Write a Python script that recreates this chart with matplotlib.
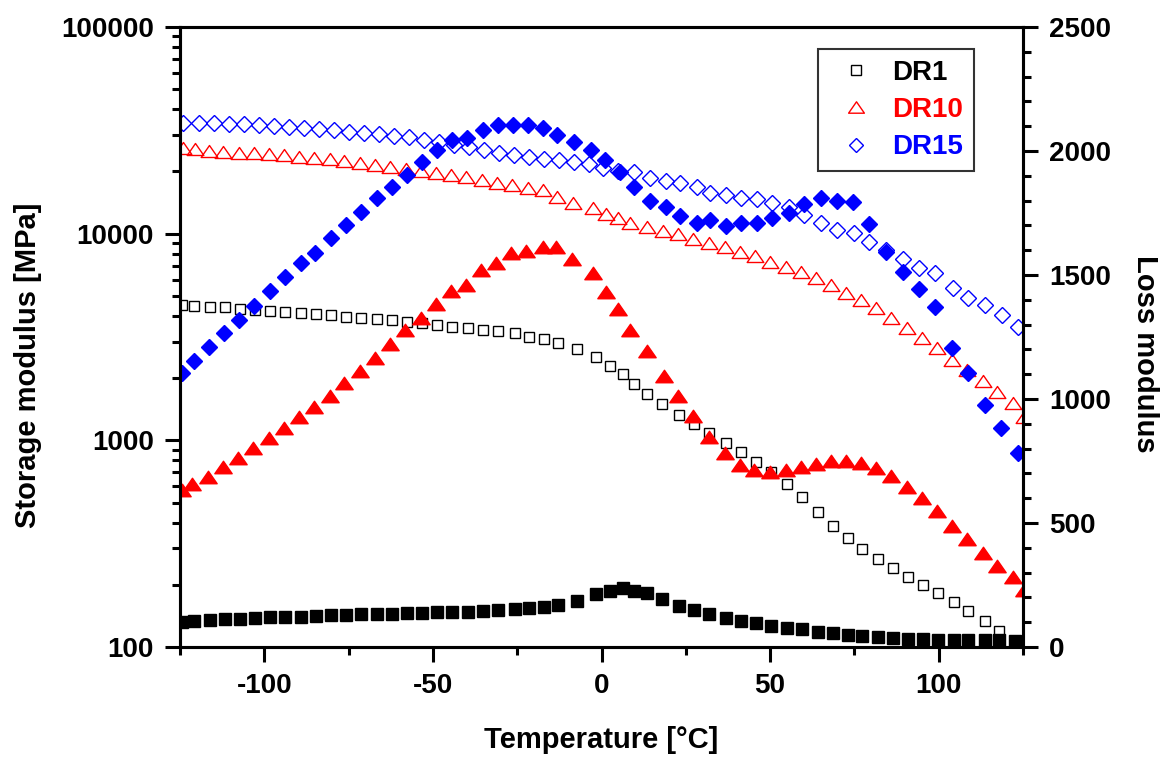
import numpy as np
import matplotlib
matplotlib.use("Agg")
import matplotlib.pyplot as plt
from matplotlib.path import Path
from matplotlib.ticker import LogLocator, FuncFormatter, NullFormatter, MultipleLocator, FixedLocator

plt.rcParams['font.family'] = ['Liberation Sans', 'DejaVu Sans']
plt.rcParams['font.weight'] = 'bold'
plt.rcParams['axes.unicode_minus'] = False

# DR1 storage (open) and loss (filled)
t_dr1 = [-124.4, -120.8, -116.2, -111.8, -107.3, -102.7, -98.2, -93.8, -89.1, -84.7,
         -80.2, -75.8, -71.2, -66.7, -62.2, -57.7, -53.1, -48.8, -44.2, -39.7,
         -35.2, -30.8, -25.8, -21.6, -17.1, -12.9, -7.4, -1.5, 2.4, 6.4,
         9.6, 13.6, 18.0, 23.1, 27.4, 32.0, 36.8, 41.5, 45.9, 50.4,
         55.0, 59.5, 64.1, 68.6, 73.1, 77.4, 82.0, 86.4, 91.0, 95.4,
         99.9, 104.4, 108.8, 113.6, 118.0, 122.5]
e1_dr1 = [4515, 4480, 4430, 4395, 4300, 4270, 4240, 4195, 4110, 4070,
          4040, 3965, 3920, 3845, 3815, 3745, 3680, 3610, 3540, 3505,
          3417, 3390, 3293, 3170, 3080, 2970, 2760, 2520, 2296, 2086,
          1872, 1675, 1499, 1325, 1199, 1081, 973, 875, 785, 705,
          615, 532, 452, 385, 336, 298, 266, 240, 219, 200,
          182, 166, 150, 134, 119]
e2_dr1 = [102, 106, 109, 112, 114, 116, 120, 120, 122, 125,
          128, 128, 132, 132, 133, 137, 138, 141, 141, 140,
          146, 149, 152, 158, 162, 169, 187, 212, 227, 237,
          227, 216, 194, 167, 149, 133, 116, 106, 96, 86,
          78, 71, 62, 55, 48, 43, 39, 35, 32, 31,
          29, 28, 28, 27, 27, 24]

# DR10
t_dr10_e1 = [-124.0, -120.6, -116.5, -112.1, -107.6, -103.2, -98.7, -94.3, -89.8, -85.2,
             -80.6, -76.3, -71.5, -67.1, -62.6, -58.0, -53.5, -49.1, -44.5, -40.1,
             -35.4, -30.9, -26.5, -21.9, -17.4, -13.1, -8.5, -2.5, 1.2, 4.8,
             8.6, 13.6, 18.3, 22.6, 27.2, 31.8, 36.5, 41.0, 45.5, 50.1,
             54.6, 59.1, 63.5, 68.0, 72.4, 76.9, 81.3, 85.8, 90.5, 95.0,
             99.6, 103.9, 108.5, 113.0, 117.4, 122.0, 125.2]
e1_dr10 = [25860, 25580, 25180, 24900, 24620, 24460, 24190, 23920, 23550, 23130,
           22880, 22520, 22030, 21470, 20930, 20470, 20090, 19580, 19210, 18720,
           18170, 17640, 17190, 16670, 16250, 15090, 14020, 13260, 12440, 11860,
           11290, 10800, 10300, 9957, 9447, 9036, 8642, 8174, 7818, 7312,
           6918, 6542, 6079, 5640, 5178, 4773, 4352, 3893, 3482, 3125,
           2812, 2446, 2188, 1943, 1719, 1520, 1301]
t_dr10_e2 = [-124.4, -121.5, -116.7, -112.3, -107.8, -103.4, -98.7, -94.3, -89.6, -85.2,
             -80.6, -76.3, -71.7, -67.1, -62.6, -58.2, -53.5, -49.1, -44.5, -40.1,
             -35.6, -31.2, -26.7, -22.3, -17.3, -13.4, -8.7, -2.6, 1.4, 5.0,
             8.6, 13.6, 18.5, 22.6, 27.2, 31.8, 36.5, 41.0, 45.2, 49.9,
             54.6, 59.1, 63.5, 68.0, 72.4, 76.9, 81.5, 86.0, 90.5, 95.0,
             99.4, 103.8, 108.5, 113.0, 117.4, 122.0, 125.2]
e2_dr10 = [633, 657, 687, 725, 761, 801, 842, 884, 929, 969,
           1013, 1063, 1113, 1164, 1220, 1280, 1327, 1385, 1436, 1460,
           1520, 1547, 1587, 1598, 1612, 1612, 1563, 1508, 1431, 1361,
           1277, 1195, 1093, 1012, 931, 846, 781, 734, 714, 707,
           714, 725, 738, 750, 751, 743, 723, 689, 646, 600,
           550, 488, 434, 378, 327, 281, 230]

# DR15
t_dr15_e1 = [-124.0, -119.5, -115.0, -110.5, -106.0, -101.6, -97.1, -92.7, -88.2, -83.8,
             -79.3, -74.9, -70.4, -66.0, -61.5, -57.1, -52.6, -48.2, -43.7, -39.3,
             -34.8, -30.4, -25.9, -21.5, -17.0, -12.6, -8.1, -3.8, 0.5, 5.0,
             9.6, 14.3, 19.0, 23.4, 28.2, 32.1, 36.8, 41.5, 46.0, 50.6,
             55.6, 60.0, 65.0, 69.7, 74.9, 79.3, 84.3, 89.5, 94.2, 98.9,
             104.1, 108.8, 113.7, 118.7, 123.4]
e1_dr15 = [34200, 34200, 34200, 34000, 33800, 33600, 33300, 33000, 32600, 32200,
           31700, 31200, 30700, 30200, 29700, 29200, 28500, 27800, 27000, 26300,
           25500, 24700, 24100, 23600, 23100, 22700, 22300, 21800, 20700, 20200,
           19930, 18520, 18030, 17510, 16860, 15670, 15380, 14820, 14660, 14020,
           13500, 12300, 11220, 10410, 10030, 9138, 8330, 7510, 6795, 6470,
           5437, 4864, 4515, 4040, 3545]
t_dr15_e2 = [-124.4, -120.8, -116.4, -112.0, -107.5, -103.0, -98.4, -93.8, -89.1, -84.9,
             -80.2, -75.8, -71.3, -66.6, -62.1, -57.7, -53.2, -48.8, -44.3, -39.9,
             -35.1, -30.7, -26.2, -21.9, -17.3, -13.1, -8.2, -3.2, 1.1, 5.4,
             9.6, 14.3, 19.0, 23.4, 28.2, 32.3, 36.8, 41.5, 46.0, 50.6,
             55.6, 60.0, 65.0, 69.7, 74.7, 79.3, 84.3, 89.5, 94.2, 99.0,
             104.0, 108.8, 113.7, 118.4, 123.4]
e2_dr15 = [1104, 1154, 1210, 1267, 1320, 1377, 1434, 1493, 1547, 1590,
           1648, 1702, 1755, 1809, 1856, 1903, 1957, 2004, 2044, 2054,
           2085, 2105, 2105, 2105, 2091, 2064, 2037, 2004, 1962, 1916,
           1853, 1798, 1775, 1738, 1708, 1722, 1697, 1708, 1711, 1731,
           1749, 1786, 1809, 1798, 1795, 1704, 1594, 1513, 1444, 1371,
           1206, 1106, 976, 882, 783]

labels = ['DR1', 'DR10', 'DR15']
colors = ['black', 'red', 'blue']

# wide, flat triangle like the original software draws
tri = Path([(-1, -0.72), (1, -0.72), (0, 0.72), (-1, -0.72)], closed=True)

fig = plt.figure(figsize=(11.62, 7.57), dpi=100)
ax = fig.add_axes([180/1162, 110/757, 843/1162, 620/757])
ax2 = ax.twinx()

h1, = ax.plot(t_dr1[:len(e1_dr1)], e1_dr1, ls='none', marker='s', ms=7.3, mfc='none', mec='black', mew=1.0)
h2, = ax.plot(t_dr10_e1, e1_dr10, ls='none', marker=tri, ms=12, mfc='none', mec='red', mew=1.0)
h3, = ax.plot(t_dr15_e1, e1_dr15, ls='none', marker='D', ms=8.0, mfc='none', mec='blue', mew=1.0)

ax2.plot(t_dr1, e2_dr1, ls='none', marker='s', ms=8.6, color='black')
ax2.plot(t_dr10_e2, e2_dr10, ls='none', marker=tri, ms=12.5, color='red')
ax2.plot(t_dr15_e2, e2_dr15, ls='none', marker='D', ms=8.6, color='blue')

ax.set_xlim(-125, 125)
ax.set_yscale('log')
ax.set_ylim(100, 100000)
ax2.set_ylim(0, 2500)

ax.xaxis.set_major_locator(FixedLocator([-100, -50, 0, 50, 100]))
ax.xaxis.set_minor_locator(MultipleLocator(25))
ax.yaxis.set_major_locator(LogLocator(base=10))
ax.yaxis.set_minor_locator(LogLocator(base=10, subs=np.arange(2, 10)))
ax.yaxis.set_major_formatter(FuncFormatter(lambda v, p: f"{v:.0f}"))
ax.yaxis.set_minor_formatter(NullFormatter())
ax2.yaxis.set_major_locator(MultipleLocator(500))
ax2.yaxis.set_minor_locator(MultipleLocator(100))

for a in (ax, ax2):
    for s in a.spines.values():
        s.set_linewidth(2.2)
    a.tick_params(which='major', direction='out', length=10.8, width=2.2, labelsize=20, pad=8)
    a.tick_params(which='minor', direction='out', length=5.8, width=2.2)
ax.tick_params(axis='y', which='both', left=True, right=False)
ax.tick_params(axis='x', which='both', top=False)

ax.set_xlabel('Temperature [°C]', fontsize=21, fontweight='bold')
ax.set_ylabel('Storage modulus [MPa]', fontsize=21, fontweight='bold')
ax2.set_ylabel('Loss modulus', fontsize=21, fontweight='bold', rotation=270, va='bottom')
ax.xaxis.set_label_coords(0.4994, -0.128)
ax.yaxis.set_label_coords(-0.164, 0.455)
ax2.yaxis.set_label_coords(1.128, 0.473)

leg = ax2.legend([h1, h2, h3], labels, loc='upper right',
                 bbox_to_anchor=(974/1162, 1 - 49/757), bbox_transform=fig.transFigure,
                 prop={'size': 20, 'weight': 'bold'}, frameon=True, fancybox=False,
                 edgecolor='black', borderpad=0.4, handlelength=2.0, handletextpad=0.28,
                 labelspacing=0.4, borderaxespad=0, markerscale=0.95)
leg.get_frame().set_linewidth(1.5)
for txt, c in zip(leg.get_texts(), colors):
    txt.set_color(c)

fig.savefig('out.png', dpi=100)
